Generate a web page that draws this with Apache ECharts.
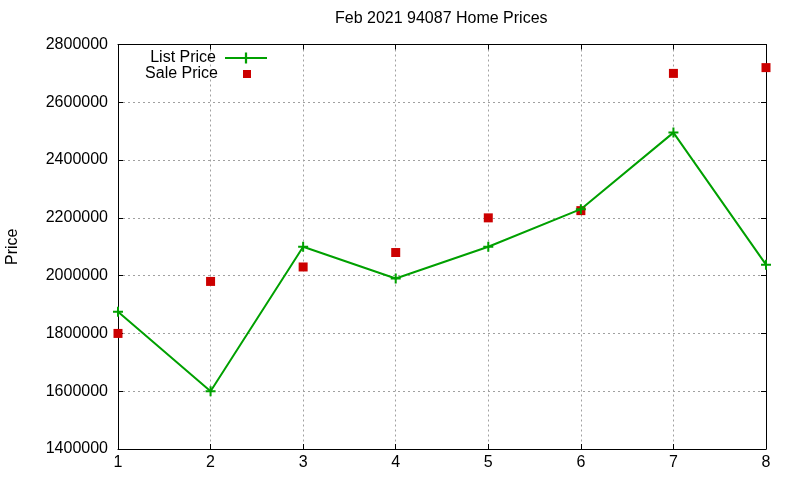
<!DOCTYPE html>
<html style="height: 100%">
<head>
    <meta charset="utf-8">
</head>
<body style="height: 100%; margin: 0; background: #fff">
    <div id="container" style="height: 100%"></div>
    <script type="text/javascript" src="https://cdn.jsdelivr.net/npm/echarts@6/dist/echarts.min.js"></script>
    <script type="text/javascript">
var months = [1, 2, 3, 4, 5, 6, 7, 8];
var listPrice = [1875000, 1600000, 2100000, 1990000, 2100000, 2230000, 2495000, 2038000];
var salePrice = [1800000, 1980000, 2030000, 2080000, 2200000, 2225000, 2700000, 2720000];
var yTicks = [1400000, 1600000, 1800000, 2000000, 2200000, 2400000, 2600000, 2800000];

var pairs = function (xs, ys) {
    var res = [];
    for (var i = 0; i < xs.length; i++) {
        res.push([xs[i], ys[i]]);
    }
    return res;
};

var font = 'Liberation Sans, Arial, sans-serif';
var plus = 'path://M4,0 H6 V4 H10 V6 H6 V10 H4 V6 H0 V4 H4 Z';

var dom = document.getElementById("container");
var myChart = echarts.init(dom);
var option = {
    backgroundColor: '#fff',
    animation: false,
    textStyle: { fontFamily: font },
    title: {
        text: 'Feb 2021 94087 Home Prices',
        left: 335,
        top: 11,
        padding: 0,
        textStyle: { fontSize: 16, fontWeight: 'normal', color: '#000', fontFamily: font }
    },
    legend: [
        {
            data: ['List Price'],
            right: 532,
            top: 50,
            padding: 0,
            align: 'right',
            itemWidth: 42,
            itemHeight: 14,
            textStyle: { fontSize: 16, color: '#000', fontFamily: font, padding: [0, 4, 0, 0] }
        },
        {
            data: ['Sale Price'],
            right: 549,
            top: 66,
            padding: 0,
            align: 'right',
            icon: 'rect',
            itemWidth: 8,
            itemHeight: 8,
            itemStyle: { opacity: 1 },
            textStyle: { fontSize: 16, color: '#000', fontFamily: font, padding: [0, 20, 0, 0] }
        }
    ],
    grid: { left: 118, right: 34, top: 44.5, bottom: 31, containLabel: false, outerBoundsMode: 'none' },
    xAxis: [
        {
            type: 'value',
            min: 1,
            max: 8,
            interval: 1,
            axisLine: { lineStyle: { color: '#000', width: 1 } },
            axisTick: { inside: true, length: 5, lineStyle: { color: '#000' } },
            axisLabel: { fontSize: 16, color: '#000', margin: 6, fontFamily: font },
            splitLine: { show: true, lineStyle: { color: '#a0a0a0', type: [2, 3], width: 1 } }
        },
        {
            type: 'value',
            position: 'top',
            min: 1,
            max: 8,
            interval: 1,
            axisLine: { show: true, lineStyle: { color: '#000', width: 1 } },
            axisTick: { inside: true, length: 5, lineStyle: { color: '#000' } },
            axisLabel: { show: false },
            splitLine: { show: false }
        }
    ],
    yAxis: [
        {
            type: 'value',
            min: yTicks[0],
            max: yTicks[yTicks.length - 1],
            interval: 200000,
            name: 'Price',
            nameLocation: 'middle',
            nameGap: 97,
            nameTextStyle: { fontSize: 16, color: '#000', fontFamily: font },
            axisLine: { show: true, lineStyle: { color: '#000', width: 1 } },
            axisTick: { show: true, inside: true, length: 5, lineStyle: { color: '#000' } },
            axisLabel: {
                fontSize: 16, color: '#000', margin: 10, fontFamily: font,
                formatter: function (v) { return String(v); }
            },
            splitLine: { show: true, lineStyle: { color: '#a0a0a0', type: [2, 3], width: 1 } }
        },
        {
            type: 'value',
            position: 'right',
            min: yTicks[0],
            max: yTicks[yTicks.length - 1],
            interval: 200000,
            axisLine: { show: true, lineStyle: { color: '#000', width: 1 } },
            axisTick: { show: true, inside: true, length: 5, lineStyle: { color: '#000' } },
            axisLabel: { show: false },
            splitLine: { show: false }
        }
    ],
    series: [
        {
            name: 'List Price',
            type: 'line',
            data: pairs(months, listPrice),
            symbol: plus,
            symbolSize: 10,
            showAllSymbol: true,
            color: '#00a000',
            lineStyle: { color: '#00a000', width: 2 },
            itemStyle: { color: '#00a000' }
        },
        {
            name: 'Sale Price',
            type: 'scatter',
            data: pairs(months, salePrice),
            symbol: 'rect',
            symbolSize: 9,
            color: '#cc0000',
            itemStyle: { color: '#cc0000', opacity: 1 }
        }
    ]
};
myChart.setOption(option, true);
</script>
</body>
</html>
